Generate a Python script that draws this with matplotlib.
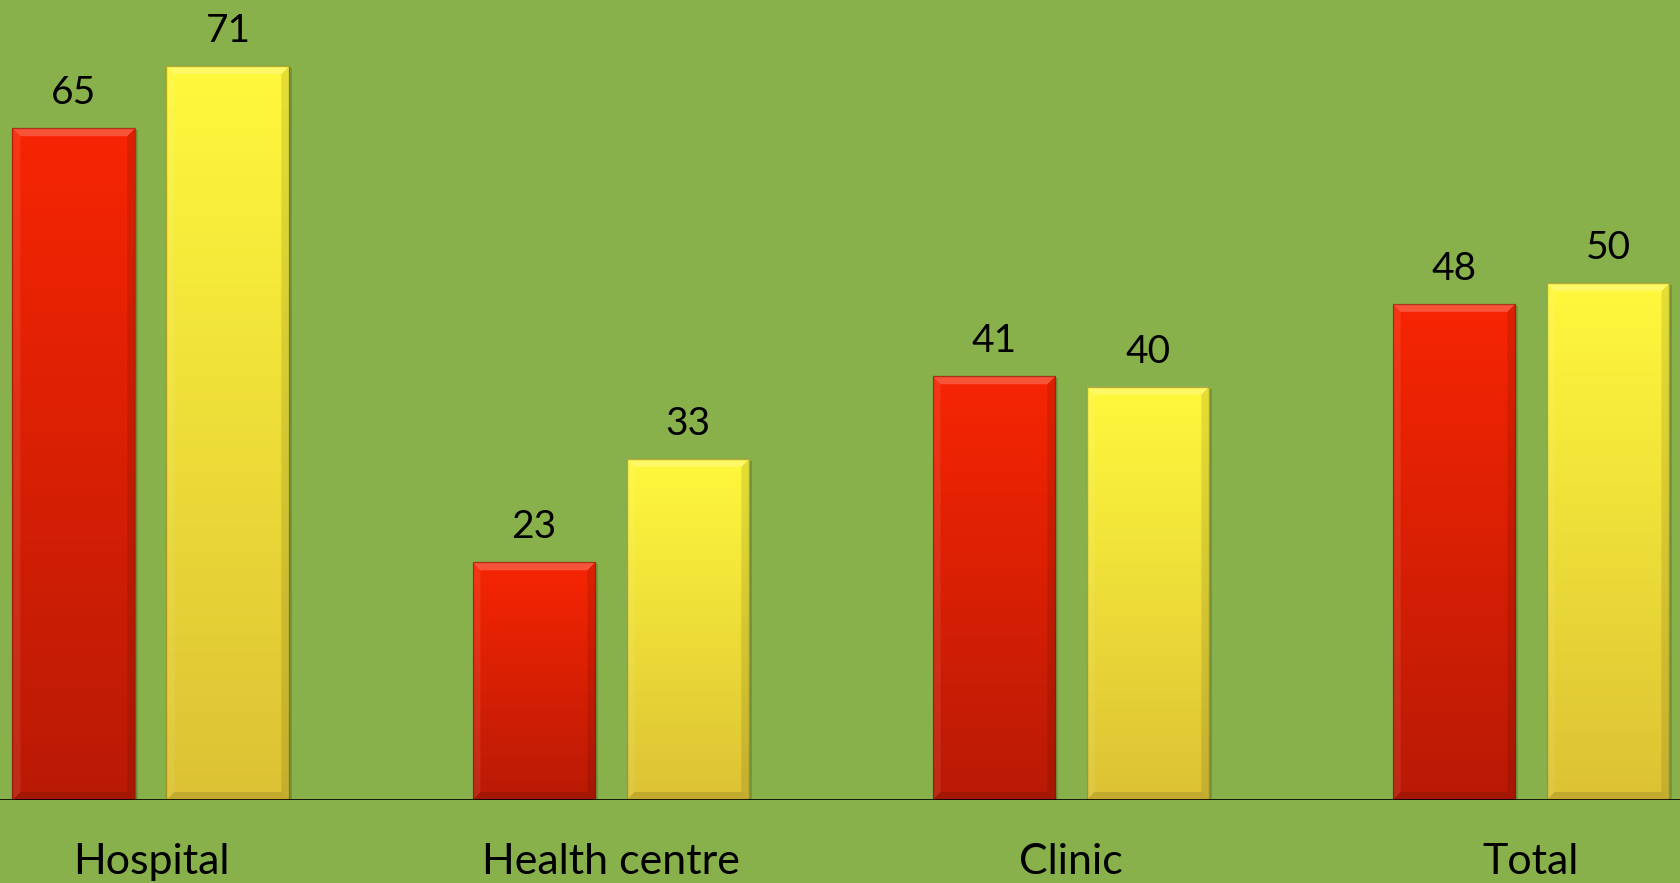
import matplotlib.pyplot as plt
import numpy as np
from matplotlib.patches import Polygon

categories = ["Hospital", "Health centre", "Clinic", "Total"]
series_a = [65, 23, 41, 48]
series_b = [71, 33, 40, 50]

BG = "#88b14c"
RED_TOP, RED_BOT = "#f72503", "#b91a06"
YEL_TOP, YEL_BOT = "#fff83c", "#dcc234"

plt.rcParams["font.family"] = ["Lato", "DejaVu Sans"]

fig = plt.figure(figsize=(16.81, 8.83), dpi=100)
fig.patch.set_facecolor(BG)
ax = fig.add_axes([0, 83 / 883, 1, 800 / 883])
ax.set_facecolor(BG)

x = np.arange(len(categories))
w = 0.267
off = 0.1674
ax.set_xlim(-0.328, 3.326)
ax.set_ylim(0, 77.4)

px_x = 1 / 460.0
px_y = 1 / 10.33


def hex2rgb(h):
    h = h.lstrip("#")
    return np.array([int(h[i:i + 2], 16) / 255 for i in (0, 2, 4)])


def fill_bar(bar, top, bot):
    x0, y0 = bar.get_x(), bar.get_y()
    bw, bh = bar.get_width(), bar.get_height()
    t = np.linspace(0, 1, 256)[:, None]
    grad = hex2rgb(bot)[None, :] * (1 - t) + hex2rgb(top)[None, :] * t
    grad = grad[:, None, :].repeat(2, axis=1)
    im = ax.imshow(grad, extent=[x0, x0 + bw, y0, y0 + bh], origin="lower",
                   aspect="auto", zorder=3, interpolation="bilinear")
    im.set_clip_path(bar)
    # bevel: light top, dark sides/bottom
    bx, by = 8 * px_x, 8 * px_y
    yt = y0 + bh
    top_poly = Polygon([[x0, yt], [x0 + bw, yt], [x0 + bw - bx, yt - by], [x0 + bx, yt - by]],
                       closed=True, facecolor="white", alpha=0.22, lw=0, zorder=4)
    left_poly = Polygon([[x0, yt], [x0 + bx, yt - by], [x0 + bx, y0 + by], [x0, y0]],
                        closed=True, facecolor="white", alpha=0.08, lw=0, zorder=4)
    right_poly = Polygon([[x0 + bw, yt], [x0 + bw - bx, yt - by], [x0 + bw - bx, y0 + by], [x0 + bw, y0]],
                         closed=True, facecolor="black", alpha=0.10, lw=0, zorder=4)
    bot_poly = Polygon([[x0, y0], [x0 + bx, y0 + by], [x0 + bw - bx, y0 + by], [x0 + bw, y0]],
                       closed=True, facecolor="black", alpha=0.12, lw=0, zorder=4)
    for p in (top_poly, left_poly, right_poly, bot_poly):
        ax.add_patch(p)


bars_a = ax.bar(x - off, series_a, w, facecolor="none", edgecolor=(0.4, 0.1, 0, 0.5), lw=1.0, zorder=5)
bars_b = ax.bar(x + off, series_b, w, facecolor="none", edgecolor=(0.45, 0.4, 0, 0.5), lw=1.0, zorder=5)

# drop shadows
for bars in (bars_a, bars_b):
    for b in bars:
        ax.bar(b.get_x() + b.get_width() / 2 + 3 * px_x, b.get_height(), b.get_width(),
               bottom=-2 * px_y, color="black", alpha=0.15, lw=0, zorder=2)

for b in bars_a:
    fill_bar(b, RED_TOP, RED_BOT)
for b in bars_b:
    fill_bar(b, YEL_TOP, YEL_BOT)

for bars, vals in ((bars_a, series_a), (bars_b, series_b)):
    for b, v in zip(bars, vals):
        ax.text(b.get_x() + b.get_width() / 2, v + 24 * px_y, str(v),
                ha="center", va="baseline", fontsize=28, color="black", zorder=6)

ax.axhline(0, color="black", lw=1.2, zorder=6)

for s in ax.spines.values():
    s.set_visible(False)
ax.set_yticks([])
ax.set_xticks(x)
ax.set_xticklabels(categories, fontsize=31)
ax.tick_params(axis="x", length=0, pad=31)

fig.savefig("out.png", dpi=100, facecolor=BG)
